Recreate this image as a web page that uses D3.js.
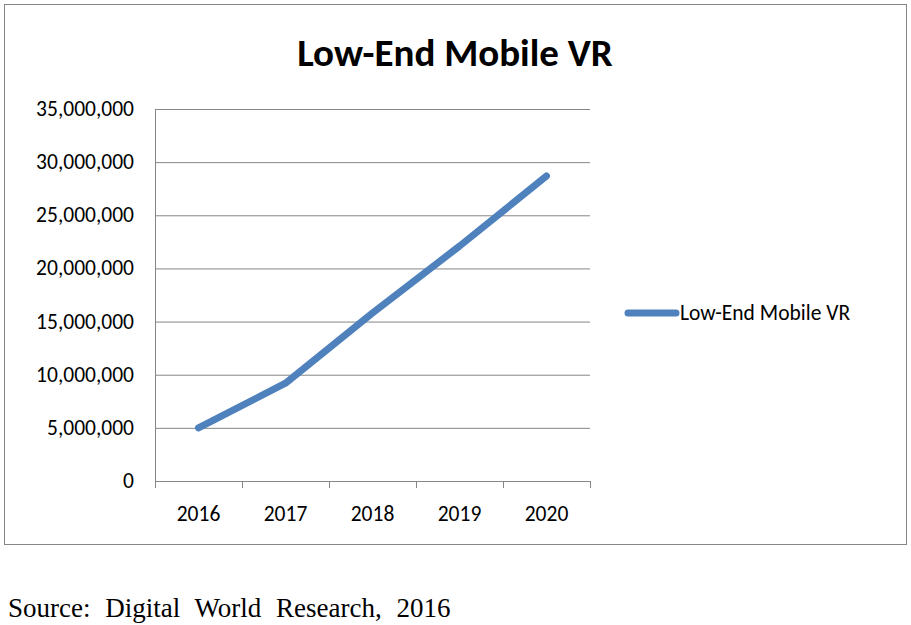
<!DOCTYPE html>
<html><head><meta charset="utf-8">
<script src="https://cdn.jsdelivr.net/npm/d3@7"></script>
<style>body{margin:0;background:#fff}</style></head>
<body><svg id="c" width="911" height="625"></svg>
<script>
const years = ["2016","2017","2018","2019","2020"];
const values = [5000000, 9200000, 15800000, 22100000, 28700000];
const yTicks = [0,5000000,10000000,15000000,20000000,25000000,30000000,35000000];
const seriesName = "Low-End Mobile VR";
const svg = d3.select("#c");
const font = "Calibri, Carlito, 'Open Sans', sans-serif";
svg.append("rect").attr("x",4.5).attr("y",4.5).attr("width",902).attr("height",540)
  .attr("fill","#fff").attr("stroke","#868686");
svg.append("text").attr("x",455).attr("y",66).attr("text-anchor","middle")
  .attr("font-family",font).attr("font-weight","bold").attr("font-size",39).text(seriesName);
const x = d3.scaleBand().domain(years).range([155,590]);
const y = d3.scaleLinear().domain([0,35000000]).range([481,109]);
svg.append("g").selectAll("line").data(yTicks).join("line")
  .attr("x1",155).attr("x2",590).attr("y1",d=>y(d)+0.5).attr("y2",d=>y(d)+0.5)
  .attr("stroke","#868686");
const fmt = d3.format(",");
svg.append("g").selectAll("text").data(yTicks).join("text")
  .attr("x",134).attr("y",d=>y(d)+7).attr("text-anchor","end")
  .attr("font-family",font).attr("font-size",21.5).text(d=>fmt(d));
svg.append("line").attr("x1",155.5).attr("x2",155.5).attr("y1",109).attr("y2",481).attr("stroke","#868686");
svg.append("g").selectAll("line").data([0,1,2,3,4,5]).join("line")
  .attr("x1",i=>155+i*x.step()+0.5).attr("x2",i=>155+i*x.step()+0.5)
  .attr("y1",481).attr("y2",488).attr("stroke","#868686");
svg.append("g").selectAll("text").data(years).join("text")
  .attr("x",d=>x(d)+x.bandwidth()/2).attr("y",521).attr("text-anchor","middle")
  .attr("font-family",font).attr("font-size",21.5).text(d=>d);
const line = d3.line().x((d,i)=>x(years[i])+x.bandwidth()/2).y(d=>y(d));
svg.append("path").datum(values).attr("d",line).attr("fill","none")
  .attr("stroke","#4f81bd").attr("stroke-width",7).attr("stroke-linecap","round").attr("stroke-linejoin","round");
svg.append("line").attr("x1",628).attr("x2",676).attr("y1",313).attr("y2",313)
  .attr("stroke","#4f81bd").attr("stroke-width",7).attr("stroke-linecap","round");
svg.append("text").attr("x",680).attr("y",320).attr("font-family",font).attr("font-size",21.5).text(seriesName);
svg.append("text").attr("x",8).attr("y",617).attr("font-family","'Liberation Serif', serif")
  .attr("font-size",27).attr("word-spacing",8).text("Source: Digital World Research, 2016");
</script></body></html>
